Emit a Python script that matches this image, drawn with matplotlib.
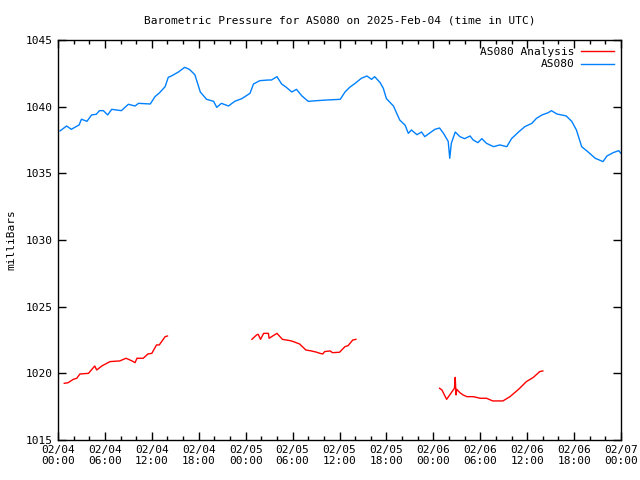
import matplotlib
matplotlib.use("Agg")
import matplotlib.pyplot as plt
from matplotlib.ticker import MultipleLocator, FixedLocator

# hours since 2025-02-04 00:00 UTC
obs_hours = [0.26, 1.1, 1.7, 2.7, 3.0, 3.7, 4.3, 4.9, 5.3, 5.8, 6.35, 6.87, 7.5, 8.1, 9.0, 9.85,
             10.3, 11.8, 12.4, 13.0, 13.7, 14.1, 14.5, 15.4, 16.2, 16.8, 17.5, 18.2, 19.0, 19.9,
             20.3, 20.9, 21.8, 22.6, 23.5, 24.55, 25.0, 25.8, 26.9, 27.3, 28.0, 28.6, 29.2, 29.9,
             30.5, 31.2, 32.0, 33.1, 34.4, 36.1, 36.7, 37.3, 38.0, 38.8, 39.5, 40.1, 40.5, 41.2,
             41.6, 42.0, 42.9, 43.7, 44.4, 44.8, 45.2, 45.9, 46.5, 46.9, 47.6, 48.2, 48.8, 49.3,
             49.9, 50.1, 50.3, 50.8, 51.4, 52.0, 52.7, 53.1, 53.7, 54.2, 54.8, 55.7, 56.5, 57.4,
             58.0, 58.9, 59.7, 60.6, 61.2, 61.9, 62.7, 63.1, 63.8, 64.4, 65.0, 65.7, 66.3, 66.97,
             67.8, 68.7, 69.7, 70.2, 71.0, 71.7, 72.0]
obs_mb = [1038.18, 1038.55, 1038.3, 1038.63, 1039.06, 1038.9, 1039.38, 1039.43, 1039.7, 1039.7,
          1039.38, 1039.8, 1039.75, 1039.7, 1040.18, 1040.05, 1040.25, 1040.2, 1040.75, 1041.05,
          1041.5, 1042.2, 1042.3, 1042.6, 1042.95, 1042.8, 1042.4, 1041.1, 1040.55, 1040.4,
          1039.95, 1040.25, 1040.05, 1040.4, 1040.6, 1041.0, 1041.7, 1041.95, 1042.0, 1042.0,
          1042.25, 1041.7, 1041.45, 1041.1, 1041.3, 1040.8, 1040.4, 1040.45, 1040.5, 1040.55,
          1041.1, 1041.45, 1041.75, 1042.13, 1042.3, 1042.05, 1042.25, 1041.8, 1041.38, 1040.6,
          1040.05, 1039.0, 1038.6, 1038.0, 1038.25, 1037.9, 1038.1, 1037.75, 1038.05, 1038.3,
          1038.4, 1038.0, 1037.4, 1036.13, 1037.25, 1038.1, 1037.75, 1037.6, 1037.8, 1037.5,
          1037.3, 1037.6, 1037.25, 1037.0, 1037.13, 1037.0, 1037.6, 1038.1, 1038.5, 1038.75,
          1039.13, 1039.38, 1039.55, 1039.7, 1039.45, 1039.38, 1039.3, 1038.9, 1038.25, 1037.0,
          1036.6, 1036.13, 1035.88, 1036.3, 1036.55, 1036.7, 1036.5]

ana1_hours = [0.8, 1.3, 1.96, 2.4, 2.8, 3.9, 4.7, 4.95, 5.6, 6.65, 7.9, 8.7, 9.4, 9.85, 10.1,
              10.9, 11.5, 12.0, 12.6, 12.95, 13.7, 14.0]
ana1_mb = [1019.25, 1019.3, 1019.55, 1019.63, 1019.95, 1020.0, 1020.55, 1020.25, 1020.55,
           1020.88, 1020.93, 1021.13, 1020.95, 1020.8, 1021.13, 1021.13, 1021.45, 1021.5,
           1022.13, 1022.13, 1022.75, 1022.8]
ana2_hours = [24.8, 25.4, 25.6, 25.9, 26.3, 26.9, 27.0, 28.0, 28.7, 29.7, 30.1, 30.9, 31.7,
              32.4, 33.1, 33.5, 33.85, 34.1, 34.8, 35.1, 36.0, 36.7, 37.1, 37.7, 38.1]
ana2_mb = [1022.55, 1022.88, 1022.93, 1022.55, 1023.0, 1023.0, 1022.63, 1023.0, 1022.55,
           1022.45, 1022.38, 1022.2, 1021.75, 1021.68, 1021.58, 1021.5, 1021.45, 1021.63,
           1021.68, 1021.55, 1021.58, 1022.0, 1022.08, 1022.5, 1022.55]
ana3_hours = [48.8, 49.1, 49.7, 50.3, 50.7, 50.8, 50.9, 51.0, 51.4, 51.8, 52.3, 53.1, 54.0,
              54.8, 55.6, 56.9, 57.8, 58.9, 59.9, 60.8, 61.6, 62.0]
ana3_mb = [1018.88, 1018.75, 1018.05, 1018.55, 1018.88, 1019.7, 1018.38, 1018.8, 1018.55,
           1018.38, 1018.25, 1018.25, 1018.13, 1018.13, 1017.93, 1017.93, 1018.25, 1018.8,
           1019.38, 1019.7, 1020.13, 1020.18]

xtick_hours = [0, 6, 12, 18, 24, 30, 36, 42, 48, 54, 60, 66, 72]
xtick_labels = ["02/04\n00:00", "02/04\n06:00", "02/04\n12:00", "02/04\n18:00",
                "02/05\n00:00", "02/05\n06:00", "02/05\n12:00", "02/05\n18:00",
                "02/06\n00:00", "02/06\n06:00", "02/06\n12:00", "02/06\n18:00",
                "02/07\n00:00"]
yticks = [1015, 1020, 1025, 1030, 1035, 1040, 1045]

plt.rcParams['font.family'] = ['DejaVu Sans Mono']
plt.rcParams['font.size'] = 8

fig = plt.figure(figsize=(6.4, 4.8), dpi=100)
ax = fig.add_axes([58/640, 40/480, 563/640, 400/480])

red = "#ff0000"
blue = "#0080ff"
ax.plot(ana1_hours, ana1_mb, color=red, lw=1, label="AS080 Analysis")
ax.plot(ana2_hours, ana2_mb, color=red, lw=1)
ax.plot(ana3_hours, ana3_mb, color=red, lw=1)
ax.plot(obs_hours, obs_mb, color=blue, lw=1, label="AS080")

ax.set_xlim(0, 72)
ax.set_ylim(1015, 1045)
ax.xaxis.set_major_locator(FixedLocator(xtick_hours))
ax.set_xticklabels(xtick_labels)
ax.xaxis.set_minor_locator(MultipleLocator(2))
ax.set_yticks(yticks)
ax.tick_params(which='both', direction='in', top=True, right=True, labelsize=8)
ax.tick_params(which='major', length=6, width=1)
ax.tick_params(which='minor', length=3, width=1)
for s in ax.spines.values():
    s.set_linewidth(1)

ax.set_title("Barometric Pressure for AS080 on 2025-Feb-04 (time in UTC)", fontsize=8, pad=12)
ax.set_ylabel("milliBars", fontsize=8, labelpad=7)

leg = ax.legend(loc='upper right', frameon=False, markerfirst=False, fontsize=8,
                handlelength=3.0, labelspacing=0.25, borderaxespad=0.4, handletextpad=0.6,
                borderpad=0.2)

fig.savefig("out.png", dpi=100)
